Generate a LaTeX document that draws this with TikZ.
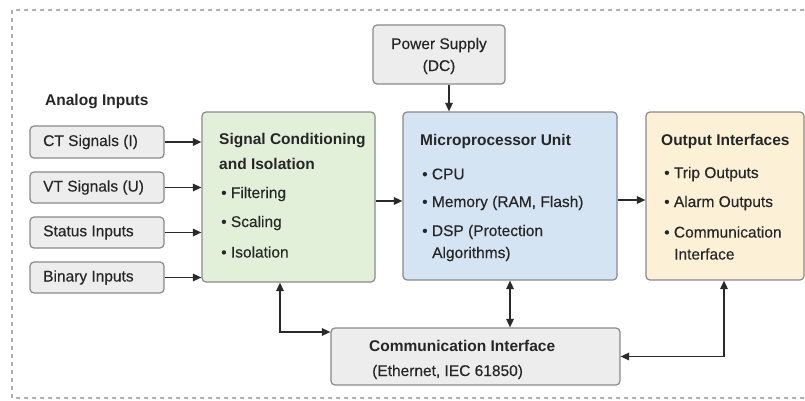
\documentclass[tikz,border=0pt]{standalone}
\usepackage{fontspec}
\setmainfont{Liberation Sans}
\newfontfamily\regfont{Liberation Sans}[FakeBold=0.3]
\usetikzlibrary{arrows.meta,calc}
\definecolor{boxline}{HTML}{8A8A8A}
\definecolor{textc}{HTML}{262626}
\definecolor{linec}{HTML}{2A2A2A}
\definecolor{grayfill}{HTML}{EDEDED}
\definecolor{greenfill}{HTML}{E2F0DA}
\definecolor{bluefill}{HTML}{D5E4F2}
\definecolor{yellowfill}{HTML}{FCF0D7}
\definecolor{frame}{HTML}{B0B0B0}
\tikzset{
  box/.style={draw=boxline, line width=1.2pt, rounded corners=4pt, inner sep=0pt},
  txt/.style={inner sep=0pt, anchor=west, font=\fontsize{15.5}{18}\selectfont\regfont, text=textc},
  btxt/.style={txt, font=\fontsize{15.5}{18}\selectfont\bfseries},
  ctxt/.style={txt, anchor=center},
  arr/.style={line width=1.5pt, draw=linec, -{Triangle[length=8.5pt,width=7.5pt]}},
  darr/.style={line width=1.5pt, draw=linec, {Triangle[length=8.5pt,width=7.5pt]}-{Triangle[length=8.5pt,width=7.5pt]}}
}
\begin{document}
\begin{tikzpicture}[x=1pt,y=-1pt]
\useasboundingbox (0,0) rectangle (805,401);
\fill[white] (0,0) rectangle (805,401);
\draw[frame, line width=1.3pt, dash pattern=on 4pt off 4pt] (12,10) rectangle (840,398);

% boxes
\node[box, fill=grayfill, minimum width=132pt, minimum height=59pt] (pw) at (439,54.5) {};
\node[box, fill=grayfill, minimum width=134pt, minimum height=32pt] (ct) at (97,142) {};
\node[box, fill=grayfill, minimum width=134pt, minimum height=31pt] (vt) at (97,187.5) {};
\node[box, fill=grayfill, minimum width=134pt, minimum height=31pt] (st) at (97,232.5) {};
\node[box, fill=grayfill, minimum width=134pt, minimum height=31pt] (bi) at (97,277.5) {};
\node[box, fill=greenfill, minimum width=173pt, minimum height=170pt] (sc) at (288.5,197) {};
\node[box, fill=bluefill, minimum width=214pt, minimum height=168pt] (mpu) at (510,196) {};
\node[box, fill=yellowfill, minimum width=158pt, minimum height=168pt] (out) at (725,196) {};
\node[box, fill=grayfill, minimum width=289pt, minimum height=57pt] (com) at (475.5,356.5) {};

% texts
\node[ctxt] (pw1) at (439,45) {Power Supply};
\node[ctxt] (pw2) at (439,67) {(DC)};
\node[btxt] (ai) at (45,102) {Analog Inputs};
\node[txt] (ctt) at (43,142) {CT Signals (I)};
\node[txt] (vtt) at (43,187.5) {VT Signals (U)};
\node[txt] (stt) at (43,232.5) {Status Inputs};
\node[txt] (bit) at (43,277.5) {Binary Inputs};

\node[btxt] (sc1) at (219,141) {Signal Conditioning};
\node[btxt] (sc2) at (219,164) {and Isolation};
\node[txt] (sc3) at (221,194) {• Filtering};
\node[txt] (sc4) at (221,223) {• Scaling};
\node[txt] (sc5) at (221,252) {• Isolation};

\node[btxt] (mp1) at (420,141) {Microprocessor Unit};
\node[txt] (mp2) at (422,174) {• CPU};
\node[txt] (mp3) at (422,203) {• Memory (RAM, Flash)};
\node[txt] (mp4) at (422,232) {• DSP (Protection};
\node[txt] (mp5) at (432,254) {Algorithms)};

\node[btxt] (ou1) at (661,141) {Output Interfaces};
\node[txt] (ou2) at (664,174) {• Trip Outputs};
\node[txt] (ou3) at (664,203) {• Alarm Outputs};
\node[txt] (ou4) at (664,232) {• Communication};
\node[txt] (ou5) at (674,254) {Interface};

\node[btxt] (co1) at (369,346) {Communication Interface};
\node[txt] (co2) at (372,372) {(Ethernet, IEC 61850)};

% connectors
\draw[arr] ([xshift=10pt]pw.south) -- ([xshift=10pt]pw.south |- mpu.north);
\draw[arr] (ct.east) -- (ct.east -| sc.west);
\draw[arr] (vt.east) -- (vt.east -| sc.west);
\draw[arr] (st.east) -- (st.east -| sc.west);
\draw[arr] (bi.east) -- (bi.east -| sc.west);
\draw[arr] ([yshift=-4pt]sc.east) -- ([yshift=-4pt]sc.east -| mpu.west);
\draw[arr] ([yshift=-4pt]mpu.east) -- ([yshift=-4pt]mpu.east -| out.west);
\coordinate (c1) at ([xshift=-8.5pt]sc.south |- 0,332);
\draw[darr] ([xshift=-8.5pt]sc.south) -- (c1) -- (c1 -| com.west);
\draw[darr] (mpu.south) -- (mpu.south |- com.north);
\coordinate (c2) at ([xshift=-1pt]out.south |- com.east);
\draw[darr] ([xshift=-1pt]out.south) -- (c2) -- (com.east);
\end{tikzpicture}
\end{document}
